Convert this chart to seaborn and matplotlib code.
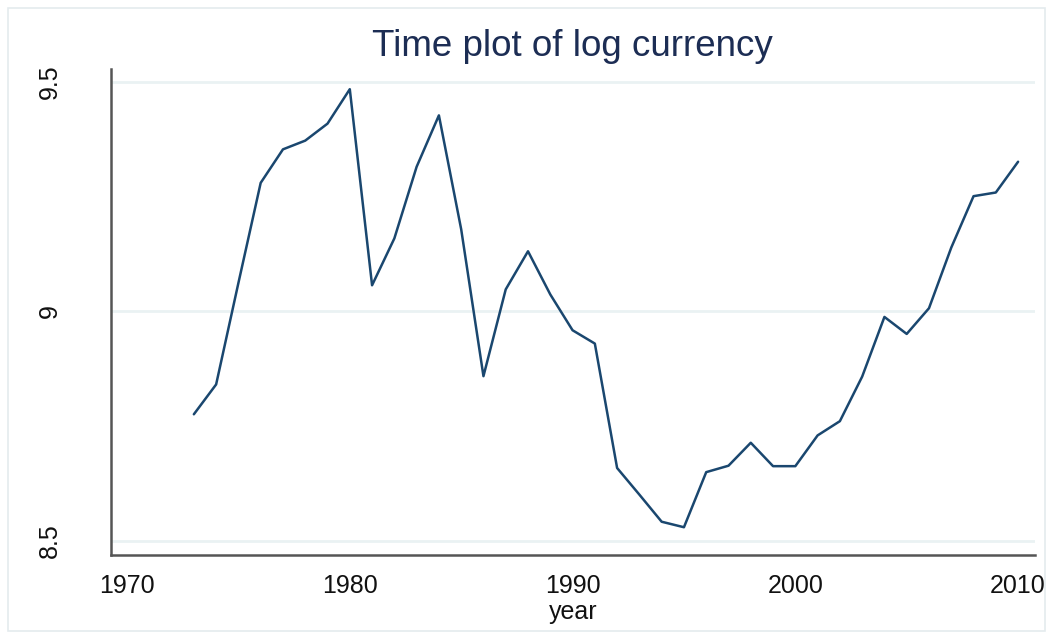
# grafico de serie temporal: log da moeda por ano
import pandas as pd
import seaborn as sns
import matplotlib.pyplot as plt
from matplotlib.patches import Rectangle

# dados
years = list(range(1973, 2011))
log_currency = [8.776, 8.841, 9.062, 9.280, 9.353, 9.372, 9.409, 9.484,
                9.057, 9.159, 9.315, 9.427, 9.179, 8.859, 9.048, 9.131,
                9.037, 8.959, 8.930, 8.659, 8.601, 8.542, 8.530, 8.650,
                8.664, 8.714, 8.663, 8.663, 8.730, 8.761, 8.858, 8.988,
                8.951, 9.007, 9.139, 9.251, 9.259, 9.326]
x_ticks = [1970, 1980, 1990, 2000, 2010]
y_ticks = [8.5, 9, 9.5]
y_tick_labels = ['8.5', '9', '9.5']

df = pd.DataFrame({'year': years, 'lcurrency': log_currency})

sns.set_style('white')
plt.rcParams['font.family'] = ['Liberation Sans', 'DejaVu Sans']

fig = plt.figure(figsize=(10.51, 6.37), dpi=100)
ax = fig.add_axes([0.1056, 0.1287, 0.8792, 0.763])

# moldura clara em volta (estilo Stata)
fig.patches.append(Rectangle((0.008, 0.01), 0.986, 0.978, transform=fig.transFigure,
                             fill=False, edgecolor='#e4ebee', linewidth=1.2))

for yv in y_ticks:
    ax.axhline(yv, color='#eaf2f3', linewidth=2, zorder=0)

sns.lineplot(data=df, x='year', y='lcurrency', ax=ax, color='#1a476f', linewidth=1.8)

ax.set_xlim(1969.28, 2010.76)
ax.set_ylim(8.4695, 9.528)
ax.set_xticks(x_ticks)
ax.set_yticks(y_ticks)
ax.set_yticklabels(y_tick_labels, rotation=90, va='center')
ax.tick_params(axis='both', direction='out', length=9, width=1, color='#222222',
               labelsize=18, labelcolor='#111111', pad=5)
ax.tick_params(axis='y', pad=26)

for side in ['top', 'right']:
    ax.spines[side].set_visible(False)
for side in ['left', 'bottom']:
    ax.spines[side].set_color('#555555')
    ax.spines[side].set_linewidth(1.8)

ax.set_xlabel('year', fontsize=18, color='#111111', labelpad=1)
ax.set_ylabel('')
fig.text(0.545, 0.927, 'Time plot of log currency', ha='center', va='center',
         fontsize=26.5, color='#1c2d54')

fig.savefig('out.png', dpi=100)
